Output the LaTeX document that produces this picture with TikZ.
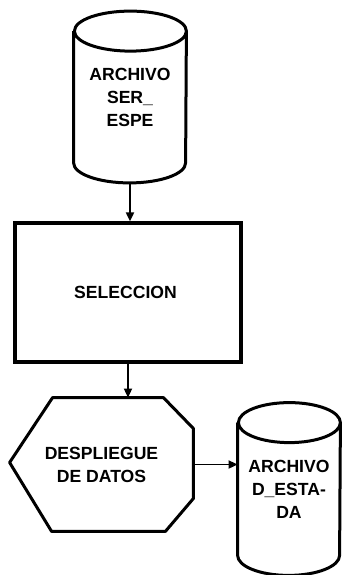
\documentclass[tikz,border=0pt]{standalone}
\usepackage{fontspec}
\setmainfont{Liberation Sans}
\usetikzlibrary{arrows.meta,calc}
\tikzset{
  letra/.style={font=\bfseries\fontsize{8.8}{11.5}\selectfont, align=center},
  borde/.style={line width=1.5pt, line join=round},
  flecha/.style={-{Triangle[length=4.5pt,width=4pt]}, line width=0.9pt},
}

\begin{document}
\begin{tikzpicture}[x=0.5pt,y=-0.5pt]
        \useasboundingbox (0,0) rectangle (342,575);
        \node[minimum width=56pt, minimum height=85.5pt, inner sep=0pt, letra] (ARCH1) at (130,97) {
            ARCHIVO\\SER\_\\ESPE
        };
        \node[draw, line width=1.6pt, minimum width=113pt, minimum height=69.5pt,
            letra] (SEL) at (128,292.5) {
            SELECCION
        };
        \node[minimum width=91.5pt, minimum height=66.5pt, inner sep=0pt, letra] (DESP) at (101.5,464.5) {
            DESPLIEGUE\\DE DATOS
        };
        \node[minimum width=51pt, minimum height=86pt, inner sep=0pt, letra] (ARCH2) at (289,489) {
            ARCHIVO\\D\_ESTA-\\DA
        };
        % cilindros
        \draw[borde] ($(ARCH1.north west)+(0,20)$) -- ($(ARCH1.south west)+(0,-20)$)
            arc[start angle=180, end angle=360, x radius=28pt, y radius=10pt]
            -- ($(ARCH1.north east)+(0,20)$)
            arc[start angle=0, end angle=180, x radius=28pt, y radius=10pt]
            arc[start angle=180, end angle=360, x radius=28pt, y radius=10pt];
        \draw[borde] ($(ARCH2.north west)+(0,20)$) -- ($(ARCH2.south west)+(0,-20)$)
            arc[start angle=180, end angle=360, x radius=25.5pt, y radius=10pt]
            -- ($(ARCH2.north east)+(0,20)$)
            arc[start angle=0, end angle=180, x radius=25.5pt, y radius=10pt]
            arc[start angle=180, end angle=360, x radius=25.5pt, y radius=10pt];
        % despliegue
        \draw[borde]
            ($(DESP.north west)+(43,0)$) -- ($(DESP.north east)+(-30,0)$)
            -- ($(DESP.east)+(0,-36)$) -- ($(DESP.east)+(0,34)$)
            -- ($(DESP.south east)+(-28,0)$) -- ($(DESP.south west)+(42,0)$)
            -- ($(DESP.west)+(0,-2)$) -- cycle;
        \draw[flecha] (ARCH1.south) -- (ARCH1.south |- SEL.north);
        \draw[flecha] (SEL.south) -- (SEL.south |- DESP.north);
        \draw[flecha] (DESP.east) -- (DESP.east -| ARCH2.west);
\end{tikzpicture}
\end{document}
